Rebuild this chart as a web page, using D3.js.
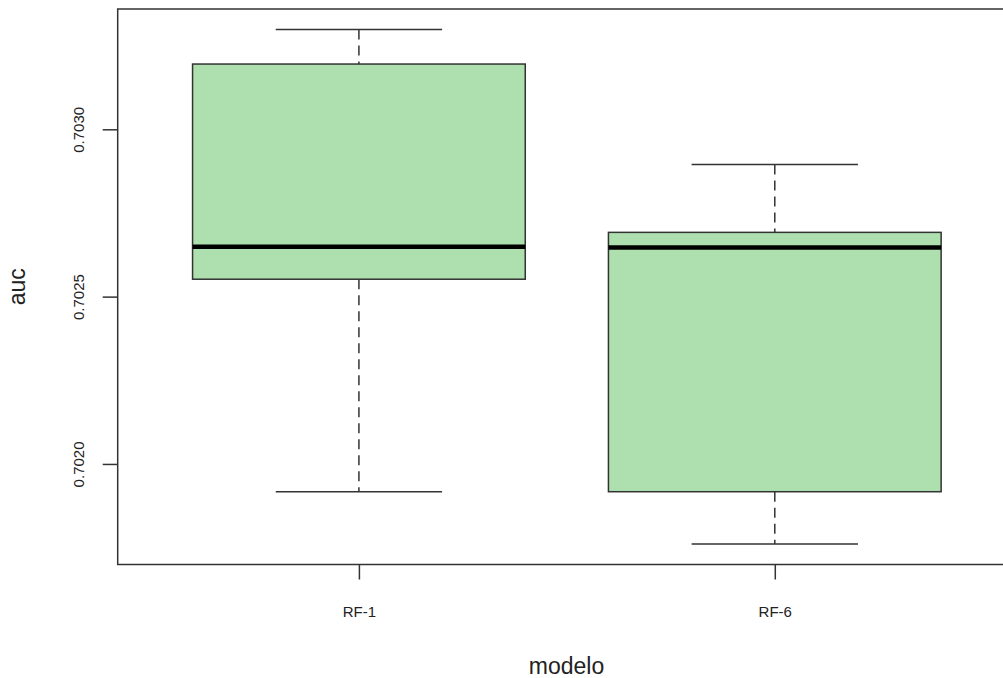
<!DOCTYPE html>
<html><head><meta charset="utf-8">
<script src="https://cdn.jsdelivr.net/npm/d3@7"></script>
<style>body{margin:0;background:#fff}svg{display:block}text{font-family:"Liberation Sans",Arial,sans-serif;fill:#222}</style>
</head><body><svg id="c" width="1003" height="678"></svg>
<script>
const categories = ["RF-1", "RF-6"];
const whiskerLow  = [0.701917, 0.701761];
const q1          = [0.702552, 0.701917];
const median      = [0.702649, 0.702647];
const q3          = [0.703195, 0.702692];
const whiskerHigh = [0.703298, 0.702895];
const yTicks = [0.7020, 0.7025, 0.7030];
const yTickLabels = ["0.7020", "0.7025", "0.7030"];

(function () {
const svg = d3.select("#c");
const pLeft = 117.7, pRight = 1016, pTop = 9, pBottom = 564.5;
const lo = d3.min(whiskerLow), hi = d3.max(whiskerHigh), pad = (hi - lo) * 0.04;
const y = d3.scaleLinear().domain([lo - pad, hi + pad]).range([pBottom, pTop]);
const x = d3.scaleLinear().domain([0.42, 2.58]).range([pLeft, pRight]);
const boxW = x(1.4) - x(1), capW = x(1.2) - x(1);
const stroke = "#333", fill = "#ade0ae";

const data = categories.map((c, i) => ({c, i: i + 1, lo: whiskerLow[i], q1: q1[i], med: median[i], q3: q3[i], hi: whiskerHigh[i]}));

const g = svg.append("g");
data.forEach(d => {
  const cx = x(d.i);
  g.append("line").attr("x1", cx).attr("x2", cx).attr("y1", y(d.hi)).attr("y2", y(d.q3))
    .attr("stroke", stroke).attr("stroke-width", 1.5).attr("stroke-dasharray", "10,6");
  g.append("line").attr("x1", cx).attr("x2", cx).attr("y1", y(d.q1)).attr("y2", y(d.lo))
    .attr("stroke", stroke).attr("stroke-width", 1.5).attr("stroke-dasharray", "10,6");
  [d.hi, d.lo].forEach(v => g.append("line").attr("x1", cx - capW).attr("x2", cx + capW)
    .attr("y1", y(v)).attr("y2", y(v)).attr("stroke", stroke).attr("stroke-width", 1.5));
  g.append("rect").attr("x", cx - boxW).attr("width", 2 * boxW).attr("y", y(d.q3)).attr("height", y(d.q1) - y(d.q3))
    .attr("fill", fill).attr("stroke", stroke).attr("stroke-width", 1.5);
  g.append("line").attr("x1", cx - boxW).attr("x2", cx + boxW).attr("y1", y(d.med)).attr("y2", y(d.med))
    .attr("stroke", "#000").attr("stroke-width", 4.5);
});

svg.append("rect").attr("x", pLeft).attr("y", pTop).attr("width", pRight - pLeft).attr("height", pBottom - pTop)
  .attr("fill", "none").attr("stroke", stroke).attr("stroke-width", 1.5);

const yAxis = d3.axisLeft(y).tickValues(yTicks).tickFormat((d, i) => yTickLabels[i]).tickSize(15).tickPadding(0);
const ya = svg.append("g").attr("transform", `translate(${pLeft},0)`).call(yAxis);
ya.select(".domain").remove();
ya.selectAll(".tick line").attr("stroke", stroke).attr("stroke-width", 1.5);
ya.selectAll(".tick text").attr("x", null).attr("dy", null)
  .attr("transform", "translate(-34,0) rotate(-90)").attr("text-anchor", "middle")
  .style("font-size", "15px").style("font-family", "Liberation Sans, Arial, sans-serif").attr("fill", "#222");

const xAxis = d3.axisBottom(x).tickValues(data.map(d => d.i)).tickFormat((d, i) => categories[i]).tickSize(15).tickPadding(0);
const xa = svg.append("g").attr("transform", `translate(0,${pBottom})`).call(xAxis);
xa.select(".domain").remove();
xa.selectAll(".tick line").attr("stroke", stroke).attr("stroke-width", 1.5);
xa.selectAll(".tick text").attr("dy", null).attr("y", 52)
  .style("font-size", "15px").style("font-family", "Liberation Sans, Arial, sans-serif").attr("fill", "#222");

svg.append("text").attr("x", 566.5).attr("y", 674).attr("text-anchor", "middle")
  .style("font-size", "23px").text("modelo");
svg.append("text").attr("transform", `translate(25,${(pTop + pBottom) / 2}) rotate(-90)`).attr("text-anchor", "middle")
  .style("font-size", "23px").text("auc");
})();
</script></body></html>
